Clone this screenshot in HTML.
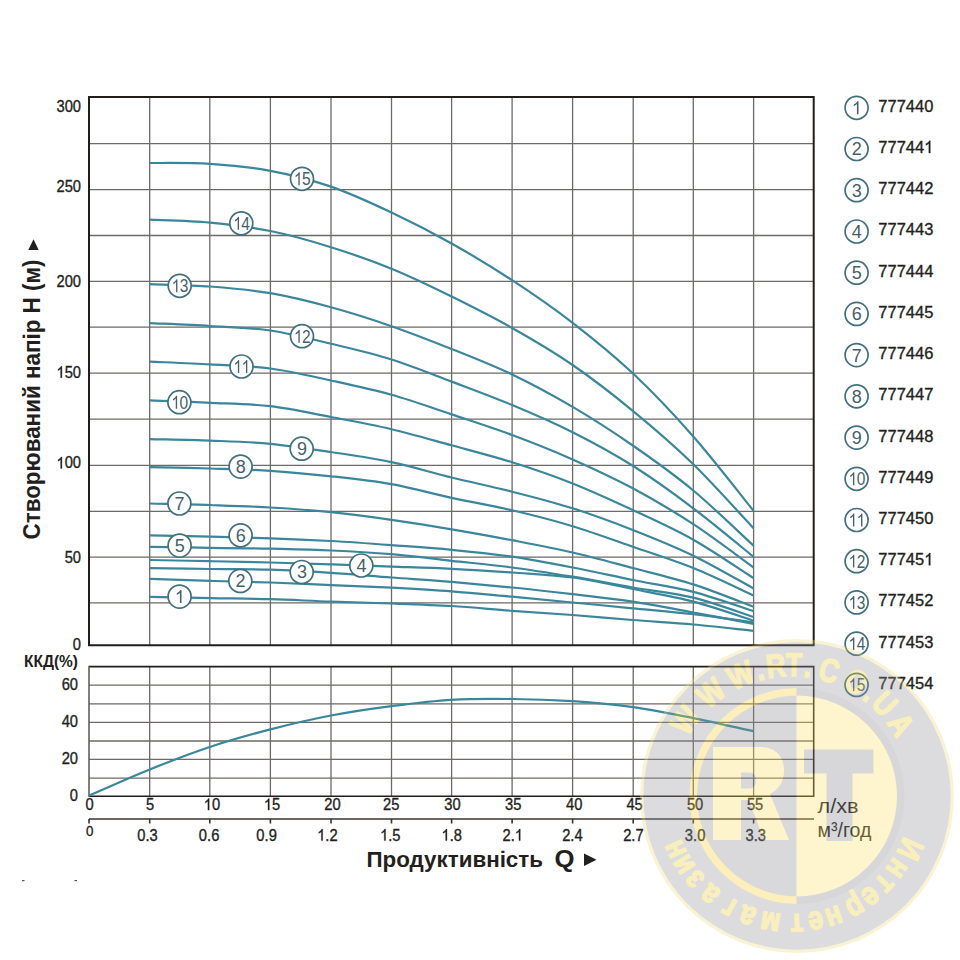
<!DOCTYPE html>
<html><head><meta charset="utf-8"><style>
html,body{margin:0;padding:0;background:#fff;}
body{width:960px;height:960px;position:relative;overflow:hidden;font-family:"Liberation Sans",sans-serif;}
svg text{font-family:"Liberation Sans",sans-serif;}
</style></head><body>
<svg width="960" height="960" viewBox="0 0 960 960" style="position:absolute;left:0;top:0">
<path d="M149.7 97.0V645.3M149.7 666.6V796.2M209.8 97.0V645.3M209.8 666.6V796.2M270.4 97.0V645.3M270.4 666.6V796.2M331.0 97.0V645.3M331.0 666.6V796.2M391.5 97.0V645.3M391.5 666.6V796.2M451.6 97.0V645.3M451.6 666.6V796.2M512.1 97.0V645.3M512.1 666.6V796.2M572.6 97.0V645.3M572.6 666.6V796.2M633.2 97.0V645.3M633.2 666.6V796.2M693.3 97.0V645.3M693.3 666.6V796.2M753.6 97.0V645.3M753.6 666.6V796.2M89.0 143.7H813.7M89.0 189.6H813.7M89.0 235.5H813.7M89.0 281.3H813.7M89.0 327.1H813.7M89.0 373.2H813.7M89.0 419.2H813.7M89.0 465.3H813.7M89.0 511.3H813.7M89.0 557.1H813.7M89.0 602.9H813.7M89.0 685.1H813.7M89.0 703.9H813.7M89.0 722.3H813.7M89.0 741.0H813.7M89.0 759.4H813.7M89.0 778.1H813.7" stroke="#6e6a67" stroke-width="1.3" fill="none"/>
<path d="M89.0 97.0H813.7V645.3H89.0Z" stroke="#231e1a" stroke-width="2" fill="none"/>
<path d="M89.0 666.6H813.7V796.2H89.0" stroke="#231e1a" stroke-width="1.6" fill="none"/>
<path d="M89.0 665.8V797.0" stroke="#625e5b" stroke-width="1.6" fill="none"/>
<path d="M89.0 819.0H814.0M89.0 819.0V823.5M149.7 819.0V823.5M209.8 819.0V823.5M270.4 819.0V823.5M331.0 819.0V823.5M391.5 819.0V823.5M451.6 819.0V823.5M512.1 819.0V823.5M572.6 819.0V823.5M633.2 819.0V823.5M693.3 819.0V823.5M753.6 819.0V823.5" stroke="#3a3430" stroke-width="1.6" fill="none"/>
<path d="M150.0 596.9 C160.0 597.1 189.9 597.7 210.0 598.1 C230.1 598.5 250.2 598.6 270.4 599.2 C290.6 599.8 310.8 600.9 331.0 601.6 C351.2 602.3 371.4 602.8 391.5 603.5 C411.6 604.2 431.5 604.8 451.6 606.0 C471.7 607.2 491.9 609.3 512.1 610.8 C532.3 612.3 552.5 613.5 572.6 615.0 C592.7 616.5 612.7 618.4 632.8 620.0 C652.9 621.6 673.2 622.7 693.3 624.5 C713.4 626.3 743.5 629.8 753.6 630.8" stroke="#3a879c" stroke-width="2.2" fill="none"/>
<path d="M150.0 578.8 C160.0 579.1 189.9 580.3 210.0 580.9 C230.1 581.5 250.2 581.8 270.4 582.5 C290.6 583.2 310.8 584.2 331.0 585.1 C351.2 586.0 371.4 586.7 391.5 587.7 C411.6 588.8 431.5 589.9 451.6 591.4 C471.7 592.9 491.9 594.9 512.1 596.7 C532.3 598.6 552.5 600.6 572.6 602.5 C592.7 604.4 612.7 606.3 632.8 608.3 C652.9 610.2 673.2 611.8 693.3 614.2 C713.4 616.6 743.5 621.1 753.6 622.5" stroke="#3a879c" stroke-width="2.2" fill="none"/>
<path d="M150.0 568.1 C160.0 568.2 189.9 568.7 210.0 569.0 C230.1 569.3 250.2 569.1 270.4 569.7 C290.6 570.3 310.8 571.5 331.0 572.8 C351.2 574.1 371.4 576.0 391.5 577.5 C411.6 579.0 431.5 580.2 451.6 581.9 C471.7 583.6 491.9 585.5 512.1 587.5 C532.3 589.5 552.5 591.8 572.6 594.2 C592.7 596.6 612.7 598.7 632.8 601.7 C652.9 604.8 673.2 608.8 693.3 612.5 C713.4 616.2 743.5 622.0 753.6 623.9" stroke="#3a879c" stroke-width="2.2" fill="none"/>
<path d="M150.0 560.0 C160.0 560.2 189.9 560.8 210.0 561.2 C230.1 561.7 250.2 562.0 270.4 562.5 C290.6 563.0 310.8 563.7 331.0 564.4 C351.2 565.1 371.4 565.9 391.5 566.6 C411.6 567.3 431.5 567.8 451.6 568.8 C471.7 569.7 491.9 571.0 512.1 572.5 C532.3 574.0 552.5 574.8 572.6 577.5 C592.7 580.2 612.7 585.0 632.8 589.0 C652.9 593.0 673.2 596.3 693.3 601.6 C713.4 606.9 743.5 617.4 753.6 620.6" stroke="#3a879c" stroke-width="2.2" fill="none"/>
<path d="M150.0 546.9 C160.0 547.0 189.9 547.5 210.0 547.8 C230.1 548.0 250.2 548.2 270.4 548.7 C290.6 549.2 310.8 549.6 331.0 550.5 C351.2 551.4 371.4 552.5 391.5 554.2 C411.6 555.9 431.5 558.6 451.6 560.8 C471.7 563.0 491.9 564.9 512.1 567.5 C532.3 570.1 552.5 573.4 572.6 576.7 C592.7 580.0 612.7 584.0 632.8 587.5 C652.9 591.0 673.2 592.7 693.3 597.6 C713.4 602.5 743.5 613.8 753.6 617.0" stroke="#3a879c" stroke-width="2.2" fill="none"/>
<path d="M150.0 535.4 C160.0 535.6 189.9 536.1 210.0 536.6 C230.1 537.1 250.2 537.6 270.4 538.3 C290.6 539.0 310.8 539.9 331.0 541.0 C351.2 542.1 371.4 543.6 391.5 545.1 C411.6 546.6 431.5 547.9 451.6 549.8 C471.7 551.7 491.9 553.8 512.1 556.7 C532.3 559.7 552.5 563.6 572.6 567.5 C592.7 571.4 612.7 575.9 632.8 580.0 C652.9 584.1 673.2 586.7 693.3 591.9 C713.4 597.1 743.5 608.0 753.6 611.2" stroke="#3a879c" stroke-width="2.2" fill="none"/>
<path d="M150.0 503.5 C160.0 503.8 189.9 504.3 210.0 505.0 C230.1 505.7 250.2 506.3 270.4 507.5 C290.6 508.7 310.8 510.1 331.0 512.2 C351.2 514.3 371.4 517.0 391.5 519.9 C411.6 522.8 431.5 525.9 451.6 529.3 C471.7 532.7 491.9 536.3 512.1 540.2 C532.3 544.1 552.5 547.9 572.6 552.5 C592.7 557.1 612.7 562.7 632.8 568.0 C652.9 573.3 673.2 577.9 693.3 584.4 C713.4 590.9 743.5 603.1 753.6 606.8" stroke="#3a879c" stroke-width="2.2" fill="none"/>
<path d="M150.0 467.1 C160.0 467.3 189.9 467.9 210.0 468.5 C230.1 469.1 250.2 469.5 270.4 470.8 C290.6 472.1 310.8 474.1 331.0 476.3 C351.2 478.5 371.4 480.6 391.5 484.2 C411.6 487.8 431.5 493.5 451.6 497.9 C471.7 502.2 491.9 505.6 512.1 510.3 C532.3 515.0 552.5 520.2 572.6 526.2 C592.7 532.3 612.7 539.7 632.8 546.7 C652.9 553.7 673.2 559.9 693.3 568.0 C713.4 576.1 743.5 590.9 753.6 595.5" stroke="#3a879c" stroke-width="2.2" fill="none"/>
<path d="M150.0 439.1 C160.0 439.4 189.9 439.8 210.0 440.6 C230.1 441.4 250.2 441.9 270.4 443.8 C290.6 445.7 310.8 448.9 331.0 452.0 C351.2 455.1 371.4 457.9 391.5 462.2 C411.6 466.4 431.5 472.6 451.6 477.5 C471.7 482.4 491.9 486.6 512.1 491.7 C532.3 496.8 552.5 501.9 572.6 508.3 C592.7 514.7 612.7 522.1 632.8 530.0 C652.9 537.9 673.2 546.0 693.3 555.7 C713.4 565.5 743.5 583.0 753.6 588.5" stroke="#3a879c" stroke-width="2.2" fill="none"/>
<path d="M150.0 400.4 C160.0 400.8 189.9 401.8 210.0 402.8 C230.1 403.7 250.2 403.8 270.4 406.2 C290.6 408.6 310.8 413.2 331.0 417.0 C351.2 420.8 371.4 424.5 391.5 429.2 C411.6 433.9 431.5 439.8 451.6 445.3 C471.7 450.8 491.9 455.9 512.1 462.2 C532.3 468.5 552.5 475.4 572.6 483.4 C592.7 491.4 612.7 500.6 632.8 510.0 C652.9 519.4 673.2 528.4 693.3 539.7 C713.4 551.1 743.5 571.7 753.6 578.1" stroke="#3a879c" stroke-width="2.2" fill="none"/>
<path d="M150.0 361.6 C160.0 362.1 189.9 363.2 210.0 364.4 C230.1 365.5 250.2 365.8 270.4 368.5 C290.6 371.2 310.8 376.1 331.0 380.5 C351.2 384.9 371.4 389.2 391.5 394.8 C411.6 400.4 431.5 407.7 451.6 414.4 C471.7 421.1 491.9 427.5 512.1 435.0 C532.3 442.5 552.5 450.5 572.6 459.4 C592.7 468.3 612.7 477.5 632.8 488.3 C652.9 499.1 673.2 511.0 693.3 524.2 C713.4 537.4 743.5 560.3 753.6 567.5" stroke="#3a879c" stroke-width="2.2" fill="none"/>
<path d="M150.0 323.1 C160.0 323.6 189.9 324.8 210.0 326.0 C230.1 327.2 250.2 327.5 270.4 330.5 C290.6 333.5 310.8 338.9 331.0 343.8 C351.2 348.6 371.4 353.2 391.5 359.5 C411.6 365.8 431.5 374.0 451.6 381.6 C471.7 389.2 491.9 396.6 512.1 405.0 C532.3 413.4 552.5 422.1 572.6 432.2 C592.7 442.3 612.7 453.1 632.8 465.8 C652.9 478.5 673.2 493.1 693.3 508.3 C713.4 523.5 743.5 548.7 753.6 556.8" stroke="#3a879c" stroke-width="2.2" fill="none"/>
<path d="M150.0 284.2 C160.0 284.6 189.9 285.0 210.0 286.5 C230.1 288.0 250.2 289.7 270.4 293.2 C290.6 296.7 310.8 301.8 331.0 307.3 C351.2 312.8 371.4 319.3 391.5 326.2 C411.6 333.2 431.5 341.0 451.6 349.0 C471.7 357.0 491.9 364.9 512.1 374.5 C532.3 384.1 552.5 395.1 572.6 406.9 C592.7 418.7 612.7 431.6 632.8 445.5 C652.9 459.4 673.2 473.8 693.3 490.5 C713.4 507.2 743.5 536.5 753.6 545.7" stroke="#3a879c" stroke-width="2.2" fill="none"/>
<path d="M150.0 219.7 C160.0 220.2 189.9 220.7 210.0 222.6 C230.1 224.5 250.2 226.9 270.4 231.0 C290.6 235.1 310.8 240.9 331.0 247.2 C351.2 253.5 371.4 260.5 391.5 268.8 C411.6 277.0 431.5 286.7 451.6 296.6 C471.7 306.5 491.9 316.6 512.1 328.0 C532.3 339.4 552.5 351.2 572.6 365.0 C592.7 378.8 612.7 394.3 632.8 410.8 C652.9 427.3 673.2 444.6 693.3 464.2 C713.4 483.8 743.5 517.6 753.6 528.3" stroke="#3a879c" stroke-width="2.2" fill="none"/>
<path d="M150.0 163.0 C160.0 163.1 189.9 162.5 210.0 163.8 C230.1 165.1 250.2 167.0 270.4 170.8 C290.6 174.6 310.8 179.7 331.0 186.6 C351.2 193.5 371.4 203.0 391.5 212.5 C411.6 222.0 431.5 232.2 451.6 243.5 C471.7 254.8 491.9 267.0 512.1 280.2 C532.3 293.5 552.5 307.3 572.6 322.8 C592.7 338.3 612.7 354.4 632.8 373.3 C652.9 392.2 673.2 413.6 693.3 436.5 C713.4 459.4 743.5 498.4 753.6 510.8" stroke="#3a879c" stroke-width="2.2" fill="none"/>
<path d="M89.0 795.7 C99.1 791.3 129.6 777.6 149.7 769.5 C169.8 761.4 189.7 753.7 209.8 747.0 C229.9 740.3 250.2 734.6 270.4 729.4 C290.6 724.1 310.8 719.4 331.0 715.5 C351.2 711.6 371.4 708.7 391.5 706.1 C411.6 703.5 431.5 700.9 451.6 699.8 C471.7 698.6 491.9 698.8 512.1 699.0 C532.3 699.2 552.4 699.9 572.6 701.2 C592.8 702.6 613.1 704.4 633.2 707.2 C653.3 710.1 673.2 714.1 693.3 718.1 C713.4 722.1 743.5 729.1 753.6 731.2" stroke="#3a879c" stroke-width="2.2" fill="none"/>
<circle cx="179.6" cy="596.6" r="11.5" fill="#fff" stroke="#41707c" stroke-width="1.7"/><path transform="translate(174.80 603.00) scale(0.00879 -0.00879)" d="M763 0H583V1147C540 1106 483 1065 413 1024C343 983 280 952 223 931V1105C323 1152 410 1209 485 1276C560 1343 613 1408 644 1471H763Z" fill="#46606a"/>
<circle cx="240.3" cy="580.9" r="11.5" fill="#fff" stroke="#41707c" stroke-width="1.7"/><text transform="translate(235.50 587.30) scale(1.000 1)" font-size="18.0" fill="#46606a">2</text>
<circle cx="301.7" cy="572.0" r="11.5" fill="#fff" stroke="#41707c" stroke-width="1.7"/><text transform="translate(296.90 578.40) scale(1.000 1)" font-size="18.0" fill="#46606a">3</text>
<circle cx="361.3" cy="565.5" r="11.5" fill="#fff" stroke="#41707c" stroke-width="1.7"/><text transform="translate(356.50 571.90) scale(1.000 1)" font-size="18.0" fill="#46606a">4</text>
<circle cx="179.6" cy="545.6" r="11.5" fill="#fff" stroke="#41707c" stroke-width="1.7"/><text transform="translate(174.80 552.00) scale(1.000 1)" font-size="18.0" fill="#46606a">5</text>
<circle cx="240.6" cy="535.3" r="11.5" fill="#fff" stroke="#41707c" stroke-width="1.7"/><text transform="translate(235.80 541.70) scale(1.000 1)" font-size="18.0" fill="#46606a">6</text>
<circle cx="179.4" cy="503.5" r="11.5" fill="#fff" stroke="#41707c" stroke-width="1.7"/><text transform="translate(174.60 509.90) scale(1.000 1)" font-size="18.0" fill="#46606a">7</text>
<circle cx="240.6" cy="466.6" r="11.5" fill="#fff" stroke="#41707c" stroke-width="1.7"/><text transform="translate(235.80 473.00) scale(1.000 1)" font-size="18.0" fill="#46606a">8</text>
<circle cx="301.7" cy="448.7" r="11.5" fill="#fff" stroke="#41707c" stroke-width="1.7"/><text transform="translate(296.90 455.10) scale(1.000 1)" font-size="18.0" fill="#46606a">9</text>
<circle cx="179.4" cy="402.2" r="11.5" fill="#fff" stroke="#41707c" stroke-width="1.7"/><path transform="translate(171.35 408.65) scale(0.00756 -0.00879)" d="M763 0H583V1147C540 1106 483 1065 413 1024C343 983 280 952 223 931V1105C323 1152 410 1209 485 1276C560 1343 613 1408 644 1471H763Z" fill="#46606a"/><text transform="translate(179.44 408.65) scale(0.860 1)" font-size="18.0" fill="#46606a">0</text>
<circle cx="241.5" cy="366.5" r="11.5" fill="#fff" stroke="#41707c" stroke-width="1.7"/><path transform="translate(233.45 372.90) scale(0.00756 -0.00879)" d="M763 0H583V1147C540 1106 483 1065 413 1024C343 983 280 952 223 931V1105C323 1152 410 1209 485 1276C560 1343 613 1408 644 1471H763Z" fill="#46606a"/><path transform="translate(241.54 372.90) scale(0.00756 -0.00879)" d="M763 0H583V1147C540 1106 483 1065 413 1024C343 983 280 952 223 931V1105C323 1152 410 1209 485 1276C560 1343 613 1408 644 1471H763Z" fill="#46606a"/>
<circle cx="302.0" cy="336.2" r="11.5" fill="#fff" stroke="#41707c" stroke-width="1.7"/><path transform="translate(293.95 342.65) scale(0.00756 -0.00879)" d="M763 0H583V1147C540 1106 483 1065 413 1024C343 983 280 952 223 931V1105C323 1152 410 1209 485 1276C560 1343 613 1408 644 1471H763Z" fill="#46606a"/><text transform="translate(302.04 342.65) scale(0.860 1)" font-size="18.0" fill="#46606a">2</text>
<circle cx="179.7" cy="285.8" r="11.5" fill="#fff" stroke="#41707c" stroke-width="1.7"/><path transform="translate(171.65 292.20) scale(0.00756 -0.00879)" d="M763 0H583V1147C540 1106 483 1065 413 1024C343 983 280 952 223 931V1105C323 1152 410 1209 485 1276C560 1343 613 1408 644 1471H763Z" fill="#46606a"/><text transform="translate(179.74 292.20) scale(0.860 1)" font-size="18.0" fill="#46606a">3</text>
<circle cx="241.3" cy="223.3" r="11.5" fill="#fff" stroke="#41707c" stroke-width="1.7"/><path transform="translate(233.25 229.70) scale(0.00756 -0.00879)" d="M763 0H583V1147C540 1106 483 1065 413 1024C343 983 280 952 223 931V1105C323 1152 410 1209 485 1276C560 1343 613 1408 644 1471H763Z" fill="#46606a"/><text transform="translate(241.34 229.70) scale(0.860 1)" font-size="18.0" fill="#46606a">4</text>
<circle cx="302.0" cy="178.8" r="11.5" fill="#fff" stroke="#41707c" stroke-width="1.7"/><path transform="translate(293.95 185.15) scale(0.00756 -0.00879)" d="M763 0H583V1147C540 1106 483 1065 413 1024C343 983 280 952 223 931V1105C323 1152 410 1209 485 1276C560 1343 613 1408 644 1471H763Z" fill="#46606a"/><text transform="translate(302.04 185.15) scale(0.860 1)" font-size="18.0" fill="#46606a">5</text>
<circle cx="856.6" cy="107.8" r="11.5" fill="#fff" stroke="#41707c" stroke-width="1.7"/><path transform="translate(851.80 114.20) scale(0.00879 -0.00879)" d="M763 0H583V1147C540 1106 483 1065 413 1024C343 983 280 952 223 931V1105C323 1152 410 1209 485 1276C560 1343 613 1408 644 1471H763Z" fill="#46606a"/>
<text transform="translate(878.30 111.80) scale(0.970 1)" font-size="17.0" fill="#231f1c" stroke="#231f1c" stroke-width="0.35">7</text><text transform="translate(887.47 111.80) scale(0.970 1)" font-size="17.0" fill="#231f1c" stroke="#231f1c" stroke-width="0.35">7</text><text transform="translate(896.64 111.80) scale(0.970 1)" font-size="17.0" fill="#231f1c" stroke="#231f1c" stroke-width="0.35">7</text><text transform="translate(905.81 111.80) scale(0.970 1)" font-size="17.0" fill="#231f1c" stroke="#231f1c" stroke-width="0.35">4</text><text transform="translate(914.97 111.80) scale(0.970 1)" font-size="17.0" fill="#231f1c" stroke="#231f1c" stroke-width="0.35">4</text><text transform="translate(924.14 111.80) scale(0.970 1)" font-size="17.0" fill="#231f1c" stroke="#231f1c" stroke-width="0.35">0</text>
<circle cx="856.6" cy="149.0" r="11.5" fill="#fff" stroke="#41707c" stroke-width="1.7"/><text transform="translate(851.80 155.42) scale(1.000 1)" font-size="18.0" fill="#46606a">2</text>
<text transform="translate(878.30 153.02) scale(0.970 1)" font-size="17.0" fill="#231f1c" stroke="#231f1c" stroke-width="0.35">7</text><text transform="translate(887.47 153.02) scale(0.970 1)" font-size="17.0" fill="#231f1c" stroke="#231f1c" stroke-width="0.35">7</text><text transform="translate(896.64 153.02) scale(0.970 1)" font-size="17.0" fill="#231f1c" stroke="#231f1c" stroke-width="0.35">7</text><text transform="translate(905.81 153.02) scale(0.970 1)" font-size="17.0" fill="#231f1c" stroke="#231f1c" stroke-width="0.35">4</text><text transform="translate(914.97 153.02) scale(0.970 1)" font-size="17.0" fill="#231f1c" stroke="#231f1c" stroke-width="0.35">4</text><path transform="translate(924.14 153.02) scale(0.00805 -0.00830)" d="M763 0H583V1147C540 1106 483 1065 413 1024C343 983 280 952 223 931V1105C323 1152 410 1209 485 1276C560 1343 613 1408 644 1471H763Z" fill="#231f1c" stroke="#231f1c" stroke-width="42.2"/>
<circle cx="856.6" cy="190.2" r="11.5" fill="#fff" stroke="#41707c" stroke-width="1.7"/><text transform="translate(851.80 196.64) scale(1.000 1)" font-size="18.0" fill="#46606a">3</text>
<text transform="translate(878.30 194.24) scale(0.970 1)" font-size="17.0" fill="#231f1c" stroke="#231f1c" stroke-width="0.35">7</text><text transform="translate(887.47 194.24) scale(0.970 1)" font-size="17.0" fill="#231f1c" stroke="#231f1c" stroke-width="0.35">7</text><text transform="translate(896.64 194.24) scale(0.970 1)" font-size="17.0" fill="#231f1c" stroke="#231f1c" stroke-width="0.35">7</text><text transform="translate(905.81 194.24) scale(0.970 1)" font-size="17.0" fill="#231f1c" stroke="#231f1c" stroke-width="0.35">4</text><text transform="translate(914.97 194.24) scale(0.970 1)" font-size="17.0" fill="#231f1c" stroke="#231f1c" stroke-width="0.35">4</text><text transform="translate(924.14 194.24) scale(0.970 1)" font-size="17.0" fill="#231f1c" stroke="#231f1c" stroke-width="0.35">2</text>
<circle cx="856.6" cy="231.5" r="11.5" fill="#fff" stroke="#41707c" stroke-width="1.7"/><text transform="translate(851.80 237.86) scale(1.000 1)" font-size="18.0" fill="#46606a">4</text>
<text transform="translate(878.30 235.46) scale(0.970 1)" font-size="17.0" fill="#231f1c" stroke="#231f1c" stroke-width="0.35">7</text><text transform="translate(887.47 235.46) scale(0.970 1)" font-size="17.0" fill="#231f1c" stroke="#231f1c" stroke-width="0.35">7</text><text transform="translate(896.64 235.46) scale(0.970 1)" font-size="17.0" fill="#231f1c" stroke="#231f1c" stroke-width="0.35">7</text><text transform="translate(905.81 235.46) scale(0.970 1)" font-size="17.0" fill="#231f1c" stroke="#231f1c" stroke-width="0.35">4</text><text transform="translate(914.97 235.46) scale(0.970 1)" font-size="17.0" fill="#231f1c" stroke="#231f1c" stroke-width="0.35">4</text><text transform="translate(924.14 235.46) scale(0.970 1)" font-size="17.0" fill="#231f1c" stroke="#231f1c" stroke-width="0.35">3</text>
<circle cx="856.6" cy="272.7" r="11.5" fill="#fff" stroke="#41707c" stroke-width="1.7"/><text transform="translate(851.80 279.08) scale(1.000 1)" font-size="18.0" fill="#46606a">5</text>
<text transform="translate(878.30 276.68) scale(0.970 1)" font-size="17.0" fill="#231f1c" stroke="#231f1c" stroke-width="0.35">7</text><text transform="translate(887.47 276.68) scale(0.970 1)" font-size="17.0" fill="#231f1c" stroke="#231f1c" stroke-width="0.35">7</text><text transform="translate(896.64 276.68) scale(0.970 1)" font-size="17.0" fill="#231f1c" stroke="#231f1c" stroke-width="0.35">7</text><text transform="translate(905.81 276.68) scale(0.970 1)" font-size="17.0" fill="#231f1c" stroke="#231f1c" stroke-width="0.35">4</text><text transform="translate(914.97 276.68) scale(0.970 1)" font-size="17.0" fill="#231f1c" stroke="#231f1c" stroke-width="0.35">4</text><text transform="translate(924.14 276.68) scale(0.970 1)" font-size="17.0" fill="#231f1c" stroke="#231f1c" stroke-width="0.35">4</text>
<circle cx="856.6" cy="313.9" r="11.5" fill="#fff" stroke="#41707c" stroke-width="1.7"/><text transform="translate(851.80 320.30) scale(1.000 1)" font-size="18.0" fill="#46606a">6</text>
<text transform="translate(878.30 317.90) scale(0.970 1)" font-size="17.0" fill="#231f1c" stroke="#231f1c" stroke-width="0.35">7</text><text transform="translate(887.47 317.90) scale(0.970 1)" font-size="17.0" fill="#231f1c" stroke="#231f1c" stroke-width="0.35">7</text><text transform="translate(896.64 317.90) scale(0.970 1)" font-size="17.0" fill="#231f1c" stroke="#231f1c" stroke-width="0.35">7</text><text transform="translate(905.81 317.90) scale(0.970 1)" font-size="17.0" fill="#231f1c" stroke="#231f1c" stroke-width="0.35">4</text><text transform="translate(914.97 317.90) scale(0.970 1)" font-size="17.0" fill="#231f1c" stroke="#231f1c" stroke-width="0.35">4</text><text transform="translate(924.14 317.90) scale(0.970 1)" font-size="17.0" fill="#231f1c" stroke="#231f1c" stroke-width="0.35">5</text>
<circle cx="856.6" cy="355.1" r="11.5" fill="#fff" stroke="#41707c" stroke-width="1.7"/><text transform="translate(851.80 361.52) scale(1.000 1)" font-size="18.0" fill="#46606a">7</text>
<text transform="translate(878.30 359.12) scale(0.970 1)" font-size="17.0" fill="#231f1c" stroke="#231f1c" stroke-width="0.35">7</text><text transform="translate(887.47 359.12) scale(0.970 1)" font-size="17.0" fill="#231f1c" stroke="#231f1c" stroke-width="0.35">7</text><text transform="translate(896.64 359.12) scale(0.970 1)" font-size="17.0" fill="#231f1c" stroke="#231f1c" stroke-width="0.35">7</text><text transform="translate(905.81 359.12) scale(0.970 1)" font-size="17.0" fill="#231f1c" stroke="#231f1c" stroke-width="0.35">4</text><text transform="translate(914.97 359.12) scale(0.970 1)" font-size="17.0" fill="#231f1c" stroke="#231f1c" stroke-width="0.35">4</text><text transform="translate(924.14 359.12) scale(0.970 1)" font-size="17.0" fill="#231f1c" stroke="#231f1c" stroke-width="0.35">6</text>
<circle cx="856.6" cy="396.3" r="11.5" fill="#fff" stroke="#41707c" stroke-width="1.7"/><text transform="translate(851.80 402.74) scale(1.000 1)" font-size="18.0" fill="#46606a">8</text>
<text transform="translate(878.30 400.34) scale(0.970 1)" font-size="17.0" fill="#231f1c" stroke="#231f1c" stroke-width="0.35">7</text><text transform="translate(887.47 400.34) scale(0.970 1)" font-size="17.0" fill="#231f1c" stroke="#231f1c" stroke-width="0.35">7</text><text transform="translate(896.64 400.34) scale(0.970 1)" font-size="17.0" fill="#231f1c" stroke="#231f1c" stroke-width="0.35">7</text><text transform="translate(905.81 400.34) scale(0.970 1)" font-size="17.0" fill="#231f1c" stroke="#231f1c" stroke-width="0.35">4</text><text transform="translate(914.97 400.34) scale(0.970 1)" font-size="17.0" fill="#231f1c" stroke="#231f1c" stroke-width="0.35">4</text><text transform="translate(924.14 400.34) scale(0.970 1)" font-size="17.0" fill="#231f1c" stroke="#231f1c" stroke-width="0.35">7</text>
<circle cx="856.6" cy="437.6" r="11.5" fill="#fff" stroke="#41707c" stroke-width="1.7"/><text transform="translate(851.80 443.96) scale(1.000 1)" font-size="18.0" fill="#46606a">9</text>
<text transform="translate(878.30 441.56) scale(0.970 1)" font-size="17.0" fill="#231f1c" stroke="#231f1c" stroke-width="0.35">7</text><text transform="translate(887.47 441.56) scale(0.970 1)" font-size="17.0" fill="#231f1c" stroke="#231f1c" stroke-width="0.35">7</text><text transform="translate(896.64 441.56) scale(0.970 1)" font-size="17.0" fill="#231f1c" stroke="#231f1c" stroke-width="0.35">7</text><text transform="translate(905.81 441.56) scale(0.970 1)" font-size="17.0" fill="#231f1c" stroke="#231f1c" stroke-width="0.35">4</text><text transform="translate(914.97 441.56) scale(0.970 1)" font-size="17.0" fill="#231f1c" stroke="#231f1c" stroke-width="0.35">4</text><text transform="translate(924.14 441.56) scale(0.970 1)" font-size="17.0" fill="#231f1c" stroke="#231f1c" stroke-width="0.35">8</text>
<circle cx="856.6" cy="478.8" r="11.5" fill="#fff" stroke="#41707c" stroke-width="1.7"/><path transform="translate(848.55 485.18) scale(0.00756 -0.00879)" d="M763 0H583V1147C540 1106 483 1065 413 1024C343 983 280 952 223 931V1105C323 1152 410 1209 485 1276C560 1343 613 1408 644 1471H763Z" fill="#46606a"/><text transform="translate(856.64 485.18) scale(0.860 1)" font-size="18.0" fill="#46606a">0</text>
<text transform="translate(878.30 482.78) scale(0.970 1)" font-size="17.0" fill="#231f1c" stroke="#231f1c" stroke-width="0.35">7</text><text transform="translate(887.47 482.78) scale(0.970 1)" font-size="17.0" fill="#231f1c" stroke="#231f1c" stroke-width="0.35">7</text><text transform="translate(896.64 482.78) scale(0.970 1)" font-size="17.0" fill="#231f1c" stroke="#231f1c" stroke-width="0.35">7</text><text transform="translate(905.81 482.78) scale(0.970 1)" font-size="17.0" fill="#231f1c" stroke="#231f1c" stroke-width="0.35">4</text><text transform="translate(914.97 482.78) scale(0.970 1)" font-size="17.0" fill="#231f1c" stroke="#231f1c" stroke-width="0.35">4</text><text transform="translate(924.14 482.78) scale(0.970 1)" font-size="17.0" fill="#231f1c" stroke="#231f1c" stroke-width="0.35">9</text>
<circle cx="856.6" cy="520.0" r="11.5" fill="#fff" stroke="#41707c" stroke-width="1.7"/><path transform="translate(848.55 526.40) scale(0.00756 -0.00879)" d="M763 0H583V1147C540 1106 483 1065 413 1024C343 983 280 952 223 931V1105C323 1152 410 1209 485 1276C560 1343 613 1408 644 1471H763Z" fill="#46606a"/><path transform="translate(856.64 526.40) scale(0.00756 -0.00879)" d="M763 0H583V1147C540 1106 483 1065 413 1024C343 983 280 952 223 931V1105C323 1152 410 1209 485 1276C560 1343 613 1408 644 1471H763Z" fill="#46606a"/>
<text transform="translate(878.30 524.00) scale(0.970 1)" font-size="17.0" fill="#231f1c" stroke="#231f1c" stroke-width="0.35">7</text><text transform="translate(887.47 524.00) scale(0.970 1)" font-size="17.0" fill="#231f1c" stroke="#231f1c" stroke-width="0.35">7</text><text transform="translate(896.64 524.00) scale(0.970 1)" font-size="17.0" fill="#231f1c" stroke="#231f1c" stroke-width="0.35">7</text><text transform="translate(905.81 524.00) scale(0.970 1)" font-size="17.0" fill="#231f1c" stroke="#231f1c" stroke-width="0.35">4</text><text transform="translate(914.97 524.00) scale(0.970 1)" font-size="17.0" fill="#231f1c" stroke="#231f1c" stroke-width="0.35">5</text><text transform="translate(924.14 524.00) scale(0.970 1)" font-size="17.0" fill="#231f1c" stroke="#231f1c" stroke-width="0.35">0</text>
<circle cx="856.6" cy="561.2" r="11.5" fill="#fff" stroke="#41707c" stroke-width="1.7"/><path transform="translate(848.55 567.62) scale(0.00756 -0.00879)" d="M763 0H583V1147C540 1106 483 1065 413 1024C343 983 280 952 223 931V1105C323 1152 410 1209 485 1276C560 1343 613 1408 644 1471H763Z" fill="#46606a"/><text transform="translate(856.64 567.62) scale(0.860 1)" font-size="18.0" fill="#46606a">2</text>
<text transform="translate(878.30 565.22) scale(0.970 1)" font-size="17.0" fill="#231f1c" stroke="#231f1c" stroke-width="0.35">7</text><text transform="translate(887.47 565.22) scale(0.970 1)" font-size="17.0" fill="#231f1c" stroke="#231f1c" stroke-width="0.35">7</text><text transform="translate(896.64 565.22) scale(0.970 1)" font-size="17.0" fill="#231f1c" stroke="#231f1c" stroke-width="0.35">7</text><text transform="translate(905.81 565.22) scale(0.970 1)" font-size="17.0" fill="#231f1c" stroke="#231f1c" stroke-width="0.35">4</text><text transform="translate(914.97 565.22) scale(0.970 1)" font-size="17.0" fill="#231f1c" stroke="#231f1c" stroke-width="0.35">5</text><path transform="translate(924.14 565.22) scale(0.00805 -0.00830)" d="M763 0H583V1147C540 1106 483 1065 413 1024C343 983 280 952 223 931V1105C323 1152 410 1209 485 1276C560 1343 613 1408 644 1471H763Z" fill="#231f1c" stroke="#231f1c" stroke-width="42.2"/>
<circle cx="856.6" cy="602.4" r="11.5" fill="#fff" stroke="#41707c" stroke-width="1.7"/><path transform="translate(848.55 608.84) scale(0.00756 -0.00879)" d="M763 0H583V1147C540 1106 483 1065 413 1024C343 983 280 952 223 931V1105C323 1152 410 1209 485 1276C560 1343 613 1408 644 1471H763Z" fill="#46606a"/><text transform="translate(856.64 608.84) scale(0.860 1)" font-size="18.0" fill="#46606a">3</text>
<text transform="translate(878.30 606.44) scale(0.970 1)" font-size="17.0" fill="#231f1c" stroke="#231f1c" stroke-width="0.35">7</text><text transform="translate(887.47 606.44) scale(0.970 1)" font-size="17.0" fill="#231f1c" stroke="#231f1c" stroke-width="0.35">7</text><text transform="translate(896.64 606.44) scale(0.970 1)" font-size="17.0" fill="#231f1c" stroke="#231f1c" stroke-width="0.35">7</text><text transform="translate(905.81 606.44) scale(0.970 1)" font-size="17.0" fill="#231f1c" stroke="#231f1c" stroke-width="0.35">4</text><text transform="translate(914.97 606.44) scale(0.970 1)" font-size="17.0" fill="#231f1c" stroke="#231f1c" stroke-width="0.35">5</text><text transform="translate(924.14 606.44) scale(0.970 1)" font-size="17.0" fill="#231f1c" stroke="#231f1c" stroke-width="0.35">2</text>
<circle cx="856.6" cy="643.7" r="11.5" fill="#fff" stroke="#41707c" stroke-width="1.7"/><path transform="translate(848.55 650.06) scale(0.00756 -0.00879)" d="M763 0H583V1147C540 1106 483 1065 413 1024C343 983 280 952 223 931V1105C323 1152 410 1209 485 1276C560 1343 613 1408 644 1471H763Z" fill="#46606a"/><text transform="translate(856.64 650.06) scale(0.860 1)" font-size="18.0" fill="#46606a">4</text>
<text transform="translate(878.30 647.66) scale(0.970 1)" font-size="17.0" fill="#231f1c" stroke="#231f1c" stroke-width="0.35">7</text><text transform="translate(887.47 647.66) scale(0.970 1)" font-size="17.0" fill="#231f1c" stroke="#231f1c" stroke-width="0.35">7</text><text transform="translate(896.64 647.66) scale(0.970 1)" font-size="17.0" fill="#231f1c" stroke="#231f1c" stroke-width="0.35">7</text><text transform="translate(905.81 647.66) scale(0.970 1)" font-size="17.0" fill="#231f1c" stroke="#231f1c" stroke-width="0.35">4</text><text transform="translate(914.97 647.66) scale(0.970 1)" font-size="17.0" fill="#231f1c" stroke="#231f1c" stroke-width="0.35">5</text><text transform="translate(924.14 647.66) scale(0.970 1)" font-size="17.0" fill="#231f1c" stroke="#231f1c" stroke-width="0.35">3</text>
<circle cx="856.6" cy="684.9" r="11.5" fill="#fff" stroke="#41707c" stroke-width="1.7"/><path transform="translate(848.55 691.28) scale(0.00756 -0.00879)" d="M763 0H583V1147C540 1106 483 1065 413 1024C343 983 280 952 223 931V1105C323 1152 410 1209 485 1276C560 1343 613 1408 644 1471H763Z" fill="#46606a"/><text transform="translate(856.64 691.28) scale(0.860 1)" font-size="18.0" fill="#46606a">5</text>
<text transform="translate(878.30 688.88) scale(0.970 1)" font-size="17.0" fill="#231f1c" stroke="#231f1c" stroke-width="0.35">7</text><text transform="translate(887.47 688.88) scale(0.970 1)" font-size="17.0" fill="#231f1c" stroke="#231f1c" stroke-width="0.35">7</text><text transform="translate(896.64 688.88) scale(0.970 1)" font-size="17.0" fill="#231f1c" stroke="#231f1c" stroke-width="0.35">7</text><text transform="translate(905.81 688.88) scale(0.970 1)" font-size="17.0" fill="#231f1c" stroke="#231f1c" stroke-width="0.35">4</text><text transform="translate(914.97 688.88) scale(0.970 1)" font-size="17.0" fill="#231f1c" stroke="#231f1c" stroke-width="0.35">5</text><text transform="translate(924.14 688.88) scale(0.970 1)" font-size="17.0" fill="#231f1c" stroke="#231f1c" stroke-width="0.35">4</text>
<text transform="translate(56.45 112.10) scale(0.920 1)" font-size="16.0" fill="#231f1c" stroke="#231f1c" stroke-width="0.35">3</text><text transform="translate(64.63 112.10) scale(0.920 1)" font-size="16.0" fill="#231f1c" stroke="#231f1c" stroke-width="0.35">0</text><text transform="translate(72.82 112.10) scale(0.920 1)" font-size="16.0" fill="#231f1c" stroke="#231f1c" stroke-width="0.35">0</text>
<text transform="translate(56.45 192.40) scale(0.920 1)" font-size="16.0" fill="#231f1c" stroke="#231f1c" stroke-width="0.35">2</text><text transform="translate(64.63 192.40) scale(0.920 1)" font-size="16.0" fill="#231f1c" stroke="#231f1c" stroke-width="0.35">5</text><text transform="translate(72.82 192.40) scale(0.920 1)" font-size="16.0" fill="#231f1c" stroke="#231f1c" stroke-width="0.35">0</text>
<text transform="translate(56.45 286.50) scale(0.920 1)" font-size="16.0" fill="#231f1c" stroke="#231f1c" stroke-width="0.35">2</text><text transform="translate(64.63 286.50) scale(0.920 1)" font-size="16.0" fill="#231f1c" stroke="#231f1c" stroke-width="0.35">0</text><text transform="translate(72.82 286.50) scale(0.920 1)" font-size="16.0" fill="#231f1c" stroke="#231f1c" stroke-width="0.35">0</text>
<path transform="translate(56.45 377.80) scale(0.00719 -0.00781)" d="M763 0H583V1147C540 1106 483 1065 413 1024C343 983 280 952 223 931V1105C323 1152 410 1209 485 1276C560 1343 613 1408 644 1471H763Z" fill="#231f1c" stroke="#231f1c" stroke-width="44.8"/><text transform="translate(64.63 377.80) scale(0.920 1)" font-size="16.0" fill="#231f1c" stroke="#231f1c" stroke-width="0.35">5</text><text transform="translate(72.82 377.80) scale(0.920 1)" font-size="16.0" fill="#231f1c" stroke="#231f1c" stroke-width="0.35">0</text>
<path transform="translate(56.45 468.40) scale(0.00719 -0.00781)" d="M763 0H583V1147C540 1106 483 1065 413 1024C343 983 280 952 223 931V1105C323 1152 410 1209 485 1276C560 1343 613 1408 644 1471H763Z" fill="#231f1c" stroke="#231f1c" stroke-width="44.8"/><text transform="translate(64.63 468.40) scale(0.920 1)" font-size="16.0" fill="#231f1c" stroke="#231f1c" stroke-width="0.35">0</text><text transform="translate(72.82 468.40) scale(0.920 1)" font-size="16.0" fill="#231f1c" stroke="#231f1c" stroke-width="0.35">0</text>
<text transform="translate(64.63 562.50) scale(0.920 1)" font-size="16.0" fill="#231f1c" stroke="#231f1c" stroke-width="0.35">5</text><text transform="translate(72.82 562.50) scale(0.920 1)" font-size="16.0" fill="#231f1c" stroke="#231f1c" stroke-width="0.35">0</text>
<text transform="translate(72.82 650.20) scale(0.920 1)" font-size="16.0" fill="#231f1c" stroke="#231f1c" stroke-width="0.35">0</text>
<text transform="translate(61.63 689.50) scale(0.920 1)" font-size="16.0" fill="#231f1c" stroke="#231f1c" stroke-width="0.35">6</text><text transform="translate(69.82 689.50) scale(0.920 1)" font-size="16.0" fill="#231f1c" stroke="#231f1c" stroke-width="0.35">0</text>
<text transform="translate(61.63 727.20) scale(0.920 1)" font-size="16.0" fill="#231f1c" stroke="#231f1c" stroke-width="0.35">4</text><text transform="translate(69.82 727.20) scale(0.920 1)" font-size="16.0" fill="#231f1c" stroke="#231f1c" stroke-width="0.35">0</text>
<text transform="translate(61.63 764.30) scale(0.920 1)" font-size="16.0" fill="#231f1c" stroke="#231f1c" stroke-width="0.35">2</text><text transform="translate(69.82 764.30) scale(0.920 1)" font-size="16.0" fill="#231f1c" stroke="#231f1c" stroke-width="0.35">0</text>
<text transform="translate(69.82 800.90) scale(0.920 1)" font-size="16.0" fill="#231f1c" stroke="#231f1c" stroke-width="0.35">0</text>
<text transform="translate(85.41 810.10) scale(0.920 1)" font-size="16.0" fill="#231f1c" stroke="#231f1c" stroke-width="0.35">0</text>
<text transform="translate(146.11 810.10) scale(0.920 1)" font-size="16.0" fill="#231f1c" stroke="#231f1c" stroke-width="0.35">5</text>
<path transform="translate(203.72 810.10) scale(0.00719 -0.00781)" d="M763 0H583V1147C540 1106 483 1065 413 1024C343 983 280 952 223 931V1105C323 1152 410 1209 485 1276C560 1343 613 1408 644 1471H763Z" fill="#231f1c" stroke="#231f1c" stroke-width="44.8"/><text transform="translate(211.90 810.10) scale(0.920 1)" font-size="16.0" fill="#231f1c" stroke="#231f1c" stroke-width="0.35">0</text>
<path transform="translate(263.82 810.10) scale(0.00719 -0.00781)" d="M763 0H583V1147C540 1106 483 1065 413 1024C343 983 280 952 223 931V1105C323 1152 410 1209 485 1276C560 1343 613 1408 644 1471H763Z" fill="#231f1c" stroke="#231f1c" stroke-width="44.8"/><text transform="translate(272.00 810.10) scale(0.920 1)" font-size="16.0" fill="#231f1c" stroke="#231f1c" stroke-width="0.35">5</text>
<text transform="translate(324.32 810.10) scale(0.920 1)" font-size="16.0" fill="#231f1c" stroke="#231f1c" stroke-width="0.35">2</text><text transform="translate(332.50 810.10) scale(0.920 1)" font-size="16.0" fill="#231f1c" stroke="#231f1c" stroke-width="0.35">0</text>
<text transform="translate(383.12 810.10) scale(0.920 1)" font-size="16.0" fill="#231f1c" stroke="#231f1c" stroke-width="0.35">2</text><text transform="translate(391.30 810.10) scale(0.920 1)" font-size="16.0" fill="#231f1c" stroke="#231f1c" stroke-width="0.35">5</text>
<text transform="translate(444.32 810.10) scale(0.920 1)" font-size="16.0" fill="#231f1c" stroke="#231f1c" stroke-width="0.35">3</text><text transform="translate(452.50 810.10) scale(0.920 1)" font-size="16.0" fill="#231f1c" stroke="#231f1c" stroke-width="0.35">0</text>
<text transform="translate(505.02 810.10) scale(0.920 1)" font-size="16.0" fill="#231f1c" stroke="#231f1c" stroke-width="0.35">3</text><text transform="translate(513.20 810.10) scale(0.920 1)" font-size="16.0" fill="#231f1c" stroke="#231f1c" stroke-width="0.35">5</text>
<text transform="translate(566.07 810.10) scale(0.920 1)" font-size="16.0" fill="#231f1c" stroke="#231f1c" stroke-width="0.35">4</text><text transform="translate(574.25 810.10) scale(0.920 1)" font-size="16.0" fill="#231f1c" stroke="#231f1c" stroke-width="0.35">0</text>
<text transform="translate(626.42 810.10) scale(0.920 1)" font-size="16.0" fill="#231f1c" stroke="#231f1c" stroke-width="0.35">4</text><text transform="translate(634.60 810.10) scale(0.920 1)" font-size="16.0" fill="#231f1c" stroke="#231f1c" stroke-width="0.35">5</text>
<text transform="translate(686.92 810.10) scale(0.920 1)" font-size="16.0" fill="#231f1c" stroke="#231f1c" stroke-width="0.35">5</text><text transform="translate(695.10 810.10) scale(0.920 1)" font-size="16.0" fill="#231f1c" stroke="#231f1c" stroke-width="0.35">0</text>
<text transform="translate(746.92 810.10) scale(0.920 1)" font-size="16.0" fill="#231f1c" stroke="#231f1c" stroke-width="0.35">5</text><text transform="translate(755.10 810.10) scale(0.920 1)" font-size="16.0" fill="#231f1c" stroke="#231f1c" stroke-width="0.35">5</text>
<text transform="translate(85.89 836.00) scale(0.920 1)" font-size="14.5" fill="#231f1c" stroke="#231f1c" stroke-width="0.35">0</text>
<text transform="translate(137.27 840.60) scale(0.920 1)" font-size="16.0" fill="#231f1c" stroke="#231f1c" stroke-width="0.35">0</text><text transform="translate(145.45 840.60) scale(0.920 1)" font-size="16.0" fill="#231f1c" stroke="#231f1c" stroke-width="0.35">.</text><text transform="translate(149.55 840.60) scale(0.920 1)" font-size="16.0" fill="#231f1c" stroke="#231f1c" stroke-width="0.35">3</text>
<text transform="translate(198.87 840.60) scale(0.920 1)" font-size="16.0" fill="#231f1c" stroke="#231f1c" stroke-width="0.35">0</text><text transform="translate(207.05 840.60) scale(0.920 1)" font-size="16.0" fill="#231f1c" stroke="#231f1c" stroke-width="0.35">.</text><text transform="translate(211.15 840.60) scale(0.920 1)" font-size="16.0" fill="#231f1c" stroke="#231f1c" stroke-width="0.35">6</text>
<text transform="translate(256.37 840.60) scale(0.920 1)" font-size="16.0" fill="#231f1c" stroke="#231f1c" stroke-width="0.35">0</text><text transform="translate(264.55 840.60) scale(0.920 1)" font-size="16.0" fill="#231f1c" stroke="#231f1c" stroke-width="0.35">.</text><text transform="translate(268.65 840.60) scale(0.920 1)" font-size="16.0" fill="#231f1c" stroke="#231f1c" stroke-width="0.35">9</text>
<path transform="translate(317.17 840.60) scale(0.00719 -0.00781)" d="M763 0H583V1147C540 1106 483 1065 413 1024C343 983 280 952 223 931V1105C323 1152 410 1209 485 1276C560 1343 613 1408 644 1471H763Z" fill="#231f1c" stroke="#231f1c" stroke-width="44.8"/><text transform="translate(325.35 840.60) scale(0.920 1)" font-size="16.0" fill="#231f1c" stroke="#231f1c" stroke-width="0.35">.</text><text transform="translate(329.45 840.60) scale(0.920 1)" font-size="16.0" fill="#231f1c" stroke="#231f1c" stroke-width="0.35">2</text>
<path transform="translate(380.07 840.60) scale(0.00719 -0.00781)" d="M763 0H583V1147C540 1106 483 1065 413 1024C343 983 280 952 223 931V1105C323 1152 410 1209 485 1276C560 1343 613 1408 644 1471H763Z" fill="#231f1c" stroke="#231f1c" stroke-width="44.8"/><text transform="translate(388.25 840.60) scale(0.920 1)" font-size="16.0" fill="#231f1c" stroke="#231f1c" stroke-width="0.35">.</text><text transform="translate(392.35 840.60) scale(0.920 1)" font-size="16.0" fill="#231f1c" stroke="#231f1c" stroke-width="0.35">5</text>
<path transform="translate(441.47 840.60) scale(0.00719 -0.00781)" d="M763 0H583V1147C540 1106 483 1065 413 1024C343 983 280 952 223 931V1105C323 1152 410 1209 485 1276C560 1343 613 1408 644 1471H763Z" fill="#231f1c" stroke="#231f1c" stroke-width="44.8"/><text transform="translate(449.65 840.60) scale(0.920 1)" font-size="16.0" fill="#231f1c" stroke="#231f1c" stroke-width="0.35">.</text><text transform="translate(453.75 840.60) scale(0.920 1)" font-size="16.0" fill="#231f1c" stroke="#231f1c" stroke-width="0.35">8</text>
<text transform="translate(502.47 840.60) scale(0.920 1)" font-size="16.0" fill="#231f1c" stroke="#231f1c" stroke-width="0.35">2</text><text transform="translate(510.65 840.60) scale(0.920 1)" font-size="16.0" fill="#231f1c" stroke="#231f1c" stroke-width="0.35">.</text><path transform="translate(514.75 840.60) scale(0.00719 -0.00781)" d="M763 0H583V1147C540 1106 483 1065 413 1024C343 983 280 952 223 931V1105C323 1152 410 1209 485 1276C560 1343 613 1408 644 1471H763Z" fill="#231f1c" stroke="#231f1c" stroke-width="44.8"/>
<text transform="translate(562.17 840.60) scale(0.920 1)" font-size="16.0" fill="#231f1c" stroke="#231f1c" stroke-width="0.35">2</text><text transform="translate(570.35 840.60) scale(0.920 1)" font-size="16.0" fill="#231f1c" stroke="#231f1c" stroke-width="0.35">.</text><text transform="translate(574.45 840.60) scale(0.920 1)" font-size="16.0" fill="#231f1c" stroke="#231f1c" stroke-width="0.35">4</text>
<text transform="translate(623.17 840.60) scale(0.920 1)" font-size="16.0" fill="#231f1c" stroke="#231f1c" stroke-width="0.35">2</text><text transform="translate(631.35 840.60) scale(0.920 1)" font-size="16.0" fill="#231f1c" stroke="#231f1c" stroke-width="0.35">.</text><text transform="translate(635.45 840.60) scale(0.920 1)" font-size="16.0" fill="#231f1c" stroke="#231f1c" stroke-width="0.35">7</text>
<text transform="translate(684.87 840.60) scale(0.920 1)" font-size="16.0" fill="#231f1c" stroke="#231f1c" stroke-width="0.35">3</text><text transform="translate(693.05 840.60) scale(0.920 1)" font-size="16.0" fill="#231f1c" stroke="#231f1c" stroke-width="0.35">.</text><text transform="translate(697.15 840.60) scale(0.920 1)" font-size="16.0" fill="#231f1c" stroke="#231f1c" stroke-width="0.35">0</text>
<text transform="translate(745.57 840.60) scale(0.920 1)" font-size="16.0" fill="#231f1c" stroke="#231f1c" stroke-width="0.35">3</text><text transform="translate(753.75 840.60) scale(0.920 1)" font-size="16.0" fill="#231f1c" stroke="#231f1c" stroke-width="0.35">.</text><text transform="translate(757.85 840.60) scale(0.920 1)" font-size="16.0" fill="#231f1c" stroke="#231f1c" stroke-width="0.35">3</text>
<text x="24" y="666.8" font-size="16.2" font-weight="bold" fill="#231f1c" textLength="54" lengthAdjust="spacingAndGlyphs">ККД(%)</text>
<text x="817.5" y="813" font-size="20.5" fill="#231f1c" textLength="41" lengthAdjust="spacingAndGlyphs">л/хв</text>
<text x="817.5" y="836.7" font-size="20.5" fill="#231f1c" textLength="54" lengthAdjust="spacingAndGlyphs">м³/год</text>
<text x="366.5" y="867.3" font-size="22.5" font-weight="bold" fill="#231f1c" textLength="176.5" lengthAdjust="spacingAndGlyphs">Продуктивність</text>
<text x="554.5" y="867.3" font-size="23" font-weight="bold" fill="#231f1c" textLength="20" lengthAdjust="spacingAndGlyphs">Q</text>
<path d="M584 853.5L596.5 859.7L584 866Z" fill="#231f1c"/>
<text transform="translate(40.2 539.5) rotate(-90)" font-size="23.5" font-weight="bold" fill="#231f1c" textLength="280" lengthAdjust="spacingAndGlyphs">Створюваний напір Н (м)</text>
<path d="M28.3 250L33.5 239.2L38.7 250Z" fill="#231f1c"/>
<rect x="22" y="880" width="2.5" height="1.2" fill="#555"/><rect x="74.5" y="880" width="2.5" height="1.2" fill="#555"/>
</svg>
<svg width="960" height="960" viewBox="0 0 960 960" style="position:absolute;left:0;top:0"><g opacity="0.32">
<circle cx="797.0" cy="796.0" r="157" fill="#f2dd79"/>
<circle cx="797.0" cy="796.0" r="153.7" fill="#95959b"/>
<path d="M797.5 688.0 A108 108 0 0 0 797.5 904.0 Z" fill="#f6d02e"/>
<path d="M796.5 688.0 A108 108 0 0 1 796.5 904.0 Z" fill="#85858e"/>
<path d="M797.5 695.5 A100.5 100.5 0 0 0 797.5 896.5 Z" fill="#8b8b92"/>
<path d="M796.5 695.5 A100.5 100.5 0 0 1 796.5 896.5 Z" fill="#fce066"/>
<path fill-rule="evenodd" fill="#f9e063" d="M713 747H760C777 747 784 758 784 771C784 782 778 790 770 794L789 840H764L749 800H741V840H713Z M741 772.5H749C754 772.5 756 776 756 780.5C756 785 754 788.5 749 788.5H741Z"/>
<path fill="#85858b" d="M804 749.5H873.5V773.5H852.5V841H826.5V773.5H804Z"/>
<text transform="translate(694.3 726.5) rotate(-54.79) scale(0.82 1)" font-size="33.0" font-weight="bold" fill="#efd02e" stroke="#efd02e" stroke-width="1.3" stroke-linejoin="round" text-anchor="middle">W</text>
<text transform="translate(717.8 701.6) rotate(-38.25) scale(0.82 1)" font-size="33.0" font-weight="bold" fill="#efd02e" stroke="#efd02e" stroke-width="1.3" stroke-linejoin="round" text-anchor="middle">W</text>
<text transform="translate(745.1 685.5) rotate(-22.93) scale(0.82 1)" font-size="33.0" font-weight="bold" fill="#efd02e" stroke="#efd02e" stroke-width="1.3" stroke-linejoin="round" text-anchor="middle">W</text>
<text transform="translate(762.1 679.8) rotate(-14.30) scale(0.82 1)" font-size="33.0" font-weight="bold" fill="#efd02e" stroke="#efd02e" stroke-width="1.3" stroke-linejoin="round" text-anchor="middle">.</text>
<text transform="translate(777.1 677.0) rotate(-6.95) scale(0.82 1)" font-size="33.0" font-weight="bold" fill="#efd02e" stroke="#efd02e" stroke-width="1.3" stroke-linejoin="round" text-anchor="middle">R</text>
<text transform="translate(793.8 676.1) rotate(1.09) scale(0.82 1)" font-size="33.0" font-weight="bold" fill="#efd02e" stroke="#efd02e" stroke-width="1.3" stroke-linejoin="round" text-anchor="middle">T</text>
<text transform="translate(806.8 677.1) rotate(7.40) scale(0.82 1)" font-size="33.0" font-weight="bold" fill="#efd02e" stroke="#efd02e" stroke-width="1.3" stroke-linejoin="round" text-anchor="middle">.</text>
<text transform="translate(825.9 681.2) rotate(16.78) scale(0.82 1)" font-size="33.0" font-weight="bold" fill="#efd02e" stroke="#efd02e" stroke-width="1.3" stroke-linejoin="round" text-anchor="middle">C</text>
<text transform="translate(850.5 691.7) rotate(29.70) scale(0.82 1)" font-size="33.0" font-weight="bold" fill="#efd02e" stroke="#efd02e" stroke-width="1.3" stroke-linejoin="round" text-anchor="middle">O</text>
<text transform="translate(864.3 700.9) rotate(37.70) scale(0.82 1)" font-size="33.0" font-weight="bold" fill="#efd02e" stroke="#efd02e" stroke-width="1.3" stroke-linejoin="round" text-anchor="middle">.</text>
<text transform="translate(876.5 711.8) rotate(45.57) scale(0.82 1)" font-size="33.0" font-weight="bold" fill="#efd02e" stroke="#efd02e" stroke-width="1.3" stroke-linejoin="round" text-anchor="middle">U</text>
<text transform="translate(891.6 730.8) rotate(57.28) scale(0.82 1)" font-size="33.0" font-weight="bold" fill="#efd02e" stroke="#efd02e" stroke-width="1.3" stroke-linejoin="round" text-anchor="middle">A</text>
<text transform="translate(899.9 844.3) rotate(114.41) scale(0.82 1)" font-size="33.0" font-weight="bold" fill="#efd02e" stroke="#efd02e" stroke-width="1.3" stroke-linejoin="round" text-anchor="middle">И</text>
<text transform="translate(889.3 862.9) rotate(124.73) scale(0.82 1)" font-size="33.0" font-weight="bold" fill="#efd02e" stroke="#efd02e" stroke-width="1.3" stroke-linejoin="round" text-anchor="middle">н</text>
<text transform="translate(877.9 876.9) rotate(133.44) scale(0.82 1)" font-size="33.0" font-weight="bold" fill="#efd02e" stroke="#efd02e" stroke-width="1.3" stroke-linejoin="round" text-anchor="middle">т</text>
<text transform="translate(864.7 888.9) rotate(142.02) scale(0.82 1)" font-size="33.0" font-weight="bold" fill="#efd02e" stroke="#efd02e" stroke-width="1.3" stroke-linejoin="round" text-anchor="middle">е</text>
<text transform="translate(850.2 898.6) rotate(150.47) scale(0.82 1)" font-size="33.0" font-weight="bold" fill="#efd02e" stroke="#efd02e" stroke-width="1.3" stroke-linejoin="round" text-anchor="middle">р</text>
<text transform="translate(830.9 907.4) rotate(160.64) scale(0.82 1)" font-size="33.0" font-weight="bold" fill="#efd02e" stroke="#efd02e" stroke-width="1.3" stroke-linejoin="round" text-anchor="middle">н</text>
<text transform="translate(814.0 912.0) rotate(169.10) scale(0.82 1)" font-size="33.0" font-weight="bold" fill="#efd02e" stroke="#efd02e" stroke-width="1.3" stroke-linejoin="round" text-anchor="middle">е</text>
<text transform="translate(796.5 914.0) rotate(177.59) scale(0.82 1)" font-size="33.0" font-weight="bold" fill="#efd02e" stroke="#efd02e" stroke-width="1.3" stroke-linejoin="round" text-anchor="middle">т</text>
<text transform="translate(771.9 912.5) rotate(189.49) scale(0.82 1)" font-size="33.0" font-weight="bold" fill="#efd02e" stroke="#efd02e" stroke-width="1.3" stroke-linejoin="round" text-anchor="middle">м</text>
<text transform="translate(750.7 906.9) rotate(200.06) scale(0.82 1)" font-size="33.0" font-weight="bold" fill="#efd02e" stroke="#efd02e" stroke-width="1.3" stroke-linejoin="round" text-anchor="middle">а</text>
<text transform="translate(733.7 899.1) rotate(209.05) scale(0.82 1)" font-size="33.0" font-weight="bold" fill="#efd02e" stroke="#efd02e" stroke-width="1.3" stroke-linejoin="round" text-anchor="middle">г</text>
<text transform="translate(715.9 887.0) rotate(219.42) scale(0.82 1)" font-size="33.0" font-weight="bold" fill="#efd02e" stroke="#efd02e" stroke-width="1.3" stroke-linejoin="round" text-anchor="middle">а</text>
<text transform="translate(701.7 873.2) rotate(229.00) scale(0.82 1)" font-size="33.0" font-weight="bold" fill="#efd02e" stroke="#efd02e" stroke-width="1.3" stroke-linejoin="round" text-anchor="middle">з</text>
<text transform="translate(691.5 859.6) rotate(237.18) scale(0.82 1)" font-size="33.0" font-weight="bold" fill="#efd02e" stroke="#efd02e" stroke-width="1.3" stroke-linejoin="round" text-anchor="middle">и</text>
<text transform="translate(683.6 845.3) rotate(245.06) scale(0.82 1)" font-size="33.0" font-weight="bold" fill="#efd02e" stroke="#efd02e" stroke-width="1.3" stroke-linejoin="round" text-anchor="middle">н</text>
</g></svg>
</body></html>
